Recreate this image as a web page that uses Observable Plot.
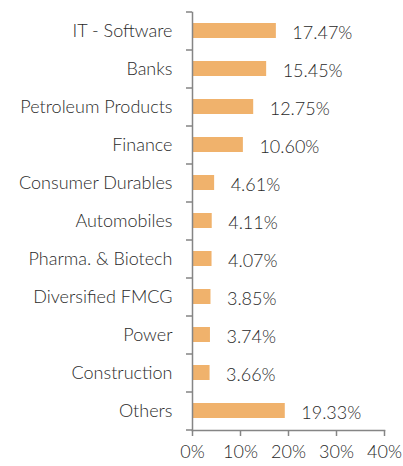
<!DOCTYPE html>
<html><head><meta charset="utf-8">
<script src="https://cdn.jsdelivr.net/npm/d3@7"></script>
<script src="https://cdn.jsdelivr.net/npm/@observablehq/plot@0.6"></script>
<style>body{margin:0;background:#fff;} svg{display:block;}</style>
</head><body><div id="chart"></div>
<script>
const categories = ["IT - Software","Banks","Petroleum Products","Finance","Consumer Durables","Automobiles","Pharma. & Biotech","Diversified FMCG","Power","Construction","Others"];
const values = [17.47,15.45,12.75,10.60,4.61,4.11,4.07,3.85,3.74,3.66,19.33];
const xTicks = [0,10,20,30,40];
const data = categories.map((c,i)=>({cat:c, v:values[i]}));
const axisColor = "#858585";
const textColor = "#2a2a2a";
const fs = 18;
const step = 38;
const chart = Plot.plot({
  width: 403, height: 466,
  marginLeft: 192, marginRight: 19, marginTop: 12, marginBottom: 36,
  style: {fontFamily: "Lato", fontSize: fs + "px", fontWeight: 300, color: textColor, background: "#fff"},
  x: {domain: [0,40], ticks: xTicks, tickFormat: d => d + "%", label: null},
  y: {domain: categories, paddingInner: 0.6, paddingOuter: 0.3, label: null},
  marks: [
    Plot.barX(data, {x: "v", y: "cat", fill: "#F0B26C"}),
    Plot.text(data, {x: "v", y: "cat", text: d => d.v.toFixed(2) + "%", textAnchor: "start", dx: 16, dy: 2, fill: textColor, fontSize: fs}),
    Plot.axisY({tickSize: 0, tickPadding: 20, fill: textColor, fontSize: fs, label: null}),
    Plot.axisY({text: null, tickSize: 6, dy: -step/2, stroke: axisColor, strokeWidth: 1.5, label: null}),
    Plot.axisY([categories[categories.length-1]], {text: null, tickSize: 6, dy: step/2, stroke: axisColor, strokeWidth: 1.5, label: null}),
    Plot.axisX(xTicks, {tickSize: 6, tickPadding: 9, stroke: axisColor, strokeWidth: 1.5, fill: textColor, fontSize: fs, label: null, tickFormat: d => d + "%"}),
    Plot.frame({anchor: "left", stroke: axisColor, strokeWidth: 1.5}),
    Plot.frame({anchor: "bottom", stroke: axisColor, strokeWidth: 1.5})
  ]
});
document.getElementById("chart").appendChild(chart);
</script></body></html>
